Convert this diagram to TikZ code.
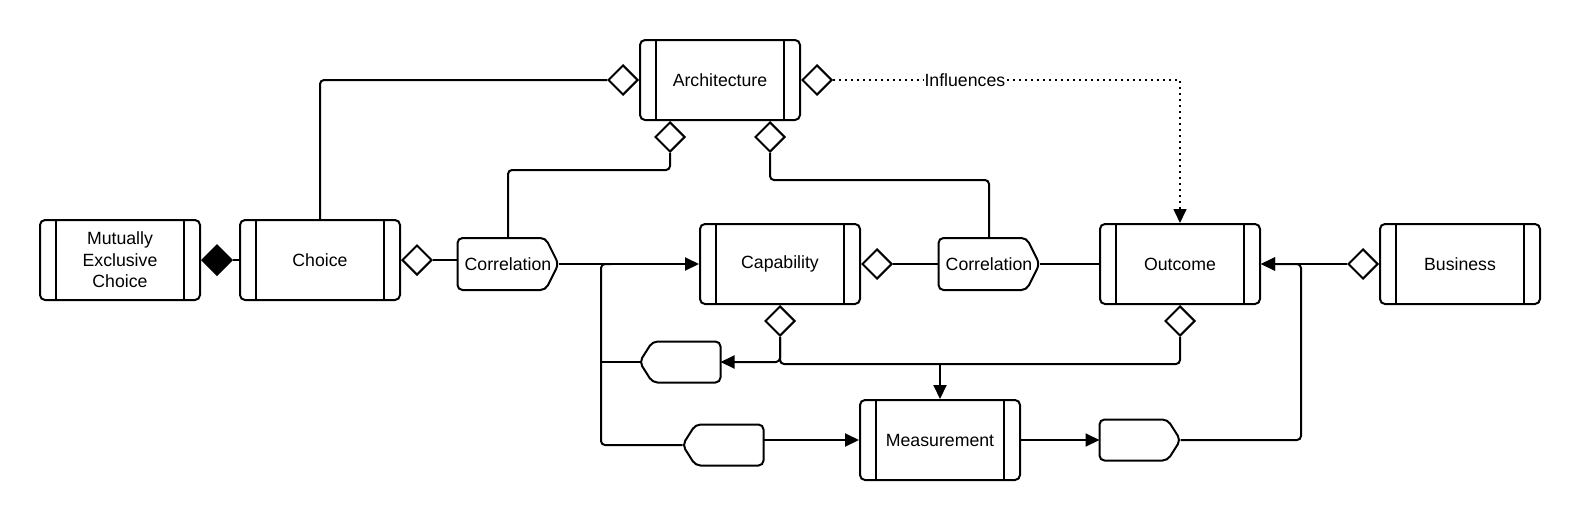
\documentclass[tikz,border=0pt]{standalone}
\usepackage{fontspec}
\setmainfont{Liberation Sans}
\usetikzlibrary{calc}
\usetikzlibrary{positioning}
\usetikzlibrary{arrows.meta}
\usetikzlibrary{shapes.geometric}

\begin{document}
\begin{tikzpicture}[x=1pt, y=-1pt, line width=2pt,
 every node/.style={font=\fontsize{17.7}{21.5}\selectfont},
 procbox/.style={draw, rounded corners=5pt, minimum width=160pt, minimum height=80pt, align=center,
  path picture={\draw[line width=2pt] ([xshift=16pt]path picture bounding box.north west) -- ([xshift=16pt]path picture bounding box.south west)
   ([xshift=-16pt]path picture bounding box.north east) -- ([xshift=-16pt]path picture bounding box.south east);}},
 corrtag/.style={minimum width=99pt, minimum height=50pt, inner sep=0pt},
 smalltag/.style={minimum width=79pt, minimum height=39pt, inner sep=0pt},
 tagline/.style={rounded corners=5pt},
 hdia/.style={draw, diamond, aspect=1, fill=white, minimum width=30pt, minimum height=30pt, inner sep=0pt},
 fdia/.style={hdia, fill=black},
 arr/.style={-{Triangle[length=14pt,width=13pt]}},
 wire/.style={rounded corners=4pt},
 dots/.style={line width=1.6pt, dash pattern=on 1.6pt off 4.4pt}]
\useasboundingbox (0,0) rectangle (1580,520);

\node[procbox] (mec) at (120,260) {Mutually\\Exclusive\\Choice};
\node[procbox] (choice) at (320,260) {Choice};
\node[procbox] (arch) at (720,80) {Architecture};
\node[procbox] (cap) at (780,264) {Capability};
\node[procbox] (outc) at (1180,264) {Outcome};
\node[procbox] (bus) at (1460,264) {Business};
\node[procbox] (meas) at (940,440) {Measurement};

\node[corrtag] (corr1) at (508,264) {Correlation};
\node[corrtag] (corr2) at (989,264) {Correlation};
\node[smalltag] (tag2) at (680,362) {};
\node[smalltag] (tag3) at (723,445) {};
\node[smalltag] (tag4) at (1140,440) {};
\foreach \t in {corr1,corr2,tag4}
 \draw[tagline] (\t.north west) -- ([xshift=-13pt]\t.north east) -- (\t.east) -- ([xshift=-13pt]\t.south east) -- (\t.south west) -- cycle;
\foreach \t in {tag2,tag3}
 \draw[tagline] (\t.north east) -- ([xshift=13pt]\t.north west) -- (\t.west) -- ([xshift=13pt]\t.south west) -- (\t.south east) -- cycle;

\node[fdia, right=0pt of mec] (dMec) {};
\node[hdia, right=0pt of choice] (dChoice) {};
\node[hdia, left=0pt of arch] (dArchW) {};
\node[hdia, right=0pt of arch] (dArchE) {};
\node[hdia, below=0pt of arch, xshift=-50pt] (dArchS1) {};
\node[hdia, below=0pt of arch, xshift=50pt] (dArchS2) {};
\node[hdia, right=0pt of cap] (dCapE) {};
\node[hdia, below=0pt of cap] (dCapS) {};
\node[hdia, below=0pt of outc] (dOutS) {};
\node[hdia, left=0pt of bus] (dBus) {};

\draw (dMec) -- (choice);
\draw (dChoice.east) -- (dChoice.east -| corr1.west);
\draw[wire] (choice.north) |- (dArchW.west);
\draw[wire] (dArchS1.south) -- ++(0,17) -| (corr1.north);
\draw[wire] (dArchS2.south) -- ++(0,27) -| (corr2.north);
\draw[dots, arr] (dArchE.east) -| (outc.north) node[pos=0.19, fill=white, inner sep=1pt] {Influences};
\draw[arr] (corr1.east) -- (cap.west);
\coordinate (jL) at (601,264);
\draw[wire] (tag3.west) -| (jL) -- ++(10,0);
\draw (tag2.west) -- (tag2.west -| jL);
\draw (dCapE) -- (corr2);
\draw (corr2.east) -- (outc.west);
\coordinate (jM) at ($(dCapS.south)+(0,27)$);
\draw[wire] (dCapS.south) -- (jM) -| (dOutS.south);
\draw[wire, arr] (dCapS.south) |- (tag2.east);
\draw[arr] (jM -| meas.north) -- (meas.north);
\draw[arr] (tag3.east |- meas.west) -- (meas.west);
\draw[arr] (meas.east) -- (tag4.west);
\coordinate (jR) at ($(outc.east)+(40,0)$);
\draw[wire, arr] (tag4.east) -| (jR) -- (outc.east);
\draw[arr] (dBus.west) -- (outc.east);
\end{tikzpicture}
\end{document}
